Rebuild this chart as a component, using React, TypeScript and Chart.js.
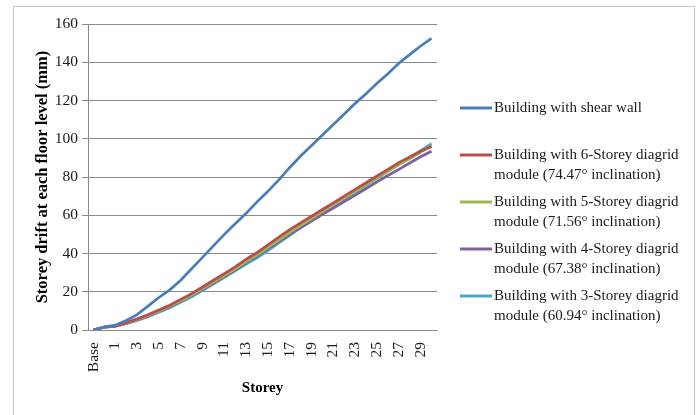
import React, { useEffect, useRef } from "react";
import { Chart, registerables } from "chart.js";

Chart.register(...registerables);

const categories = [
  "Base", "Plinth", "1", "2", "3", "4", "5", "6", "7", "8", "9", "10",
  "11", "12", "13", "14", "15", "16", "17", "18", "19", "20",
  "21", "22", "23", "24", "25", "26", "27", "28", "29", "30",
];

const shearWall = [0, 1.5, 2.5, 5, 8, 12.5, 17, 21, 26, 32, 38, 44, 50, 55.5, 61, 67, 72.5, 78.5, 85, 91, 96.5, 102, 107.5, 113, 118.5, 123.5, 129, 134, 139.5, 144, 148.5, 152.5];
const diagrid6 = [0, 1.5, 2, 3.8, 5.8, 8, 10.5, 13, 16, 19, 22.5, 26, 29.5, 33, 37, 40.5, 44.5, 48.5, 52.5, 56, 59.5, 63, 66.5, 70, 73.5, 77, 80.5, 84, 87.5, 90.5, 93.5, 96];
const diagrid5 = [0, 1.5, 2, 3.6, 5.5, 7.6, 10, 12.5, 15.3, 18.3, 21.7, 25, 28.5, 32, 35.8, 39.3, 43.2, 47, 51, 54.7, 58.3, 62, 65.5, 69, 72.5, 76, 79.5, 83, 86.5, 89.5, 93, 96.3];
const diagrid4 = [0, 1.5, 2, 3.5, 5.3, 7.4, 9.7, 12.2, 15, 18, 21.3, 24.6, 28, 31.5, 35.2, 38.7, 42.5, 46.2, 50, 53.5, 57, 60.5, 63.8, 67.2, 70.5, 74, 77.5, 80.8, 84, 87.3, 90.6, 93.5];
const diagrid3 = [0, 1.5, 2, 3.3, 5, 7, 9.3, 11.7, 14.5, 17.4, 20.6, 24, 27.5, 31, 34.5, 37.8, 41.5, 45.5, 49.5, 53.5, 57.3, 61, 64.7, 68.3, 72, 75.8, 79.5, 83, 86.5, 90, 93.8, 97.5];

const seriesNames = [
  ["Building with shear wall"],
  ["Building with 6-Storey diagrid", "module (74.47° inclination)"],
  ["Building with 5-Storey diagrid", "module (71.56° inclination)"],
  ["Building with 4-Storey diagrid", "module (67.38° inclination)"],
  ["Building with 3-Storey diagrid", "module (60.94° inclination)"],
];
const seriesValues = [shearWall, diagrid6, diagrid5, diagrid4, diagrid3];
const seriesColors = ["#4A7EBB", "#BE4B48", "#98B954", "#7D60A0", "#46AAC5"];

const yTicks = [0, 20, 40, 60, 80, 100, 120, 140, 160];
const yTitle = "Storey drift at each floor level (mm)";
const xTitle = "Storey";

const FONT = "'Liberation Serif', 'Times New Roman', serif";

const frameAndLegend = {
  id: "frameAndLegend",
  beforeDraw(chart: any) {
    const ctx = chart.ctx;
    ctx.save();
    ctx.strokeStyle = "#c4c4c4";
    ctx.lineWidth = 1;
    ctx.strokeRect(13.5, 6.5, 681, 430);
    ctx.restore();
  },
  afterDraw(chart: any) {
    const ctx = chart.ctx;
    ctx.save();
    ctx.font = `15px ${FONT}`;
    ctx.textBaseline = "middle";
    ctx.textAlign = "left";
    const startY = 108;
    const gap = 47;
    const lineGap = 20;
    chart.data.datasets.forEach((ds: any, i: number) => {
      const y = startY + gap * i;
      ctx.strokeStyle = ds.borderColor;
      ctx.lineWidth = 3;
      ctx.beginPath();
      ctx.moveTo(460, y);
      ctx.lineTo(492, y);
      ctx.stroke();
      ctx.fillStyle = "#1a1a1a";
      seriesNames[i].forEach((line, j) => {
        ctx.fillText(line, 494, y + j * lineGap);
      });
    });
    ctx.restore();
  },
};

export default function App() {
  const ref = useRef<HTMLCanvasElement>(null);
  useEffect(() => {
    if (!ref.current) return;
    const chart = new Chart(ref.current, {
      type: "line",
      data: {
        labels: categories,
        datasets: seriesValues.map((vals, i) => ({
          label: seriesNames[i].join(" "),
          data: vals,
          borderColor: seriesColors[i],
          backgroundColor: seriesColors[i],
          borderWidth: 2.75,
          pointRadius: 0,
          tension: 0,
          fill: false,
        })),
      },
      options: {
        responsive: false,
        animation: false,
        layout: { padding: { left: 33, top: 24, right: 263, bottom: 18 } },
        plugins: {
          legend: { display: false },
          tooltip: { enabled: false },
        },
        scales: {
          x: {
            type: "category",
            offset: true,
            grid: { display: false },
            border: { display: true, color: "#8a8a8a", width: 1 },
            ticks: {
              autoSkip: false,
              minRotation: 90,
              maxRotation: 90,
              padding: 4,
              color: "#1a1a1a",
              font: { family: FONT, size: 15.5 },
              callback: (_v: any, index: number) => (index % 2 === 0 ? categories[index] : ""),
            },
            title: {
              display: true,
              text: xTitle,
              color: "#000",
              padding: 0,
              font: { family: FONT, size: 15, weight: "bold" },
            },
            afterFit: (s: any) => {
              s.height = 67;
            },
          },
          y: {
            min: 0,
            max: 160,
            afterBuildTicks: (s: any) => {
              s.ticks = yTicks.map((v) => ({ value: v }));
            },
            grid: {
              color: "#8a8a8a",
              lineWidth: 1,
              drawTicks: true,
              tickLength: 6,
            },
            border: { display: true, color: "#8a8a8a", width: 1 },
            ticks: {
              padding: 4,
              color: "#1a1a1a",
              font: { family: FONT, size: 15.5 },
            },
            title: {
              display: true,
              text: yTitle,
              color: "#000",
              padding: 0,
              font: { family: FONT, size: 16.5, weight: "bold" },
            },
            afterFit: (s: any) => {
              s.width = 55;
            },
          },
        },
      },
      plugins: [frameAndLegend],
    });
    return () => chart.destroy();
  }, []);
  return (
    <div style={{ position: "fixed", left: 0, top: 0, width: 700, height: 415, background: "#fff" }}>
      <canvas ref={ref} width={700} height={415} style={{ width: 700, height: 415, display: "block" }} />
    </div>
  );
}
